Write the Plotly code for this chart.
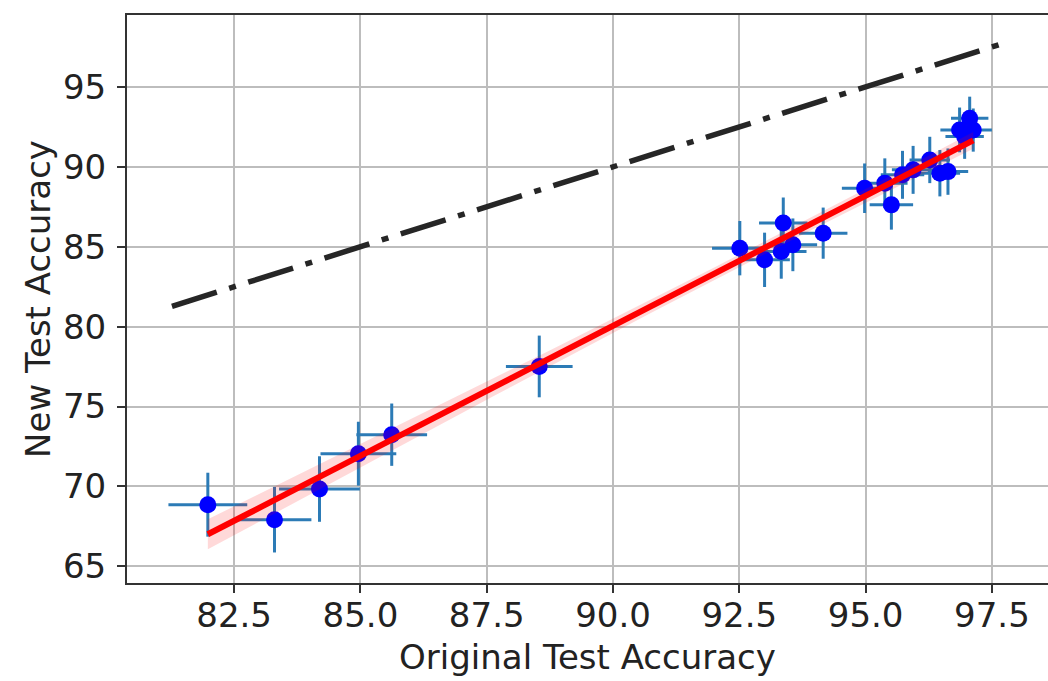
import numpy as np
import plotly.graph_objects as go

# ---- data ----
orig_acc = [81.98, 83.30, 84.19, 84.96, 85.62, 88.54, 92.51, 93.00, 93.33, 93.37,
            93.56, 94.16, 94.98, 95.38, 95.51, 95.73, 95.94, 96.27, 96.47, 96.63,
            96.86, 96.96, 97.06, 97.13]
new_acc = [68.86, 67.92, 69.84, 72.05, 73.24, 77.51, 84.91, 84.18, 84.70, 86.48,
           85.12, 85.85, 88.66, 88.98, 87.62, 89.50, 89.81, 90.43, 89.60, 89.70,
           92.31, 91.90, 93.04, 92.30]
orig_err = [0.78, 0.73, 0.80, 0.75, 0.70, 0.66, 0.55, 0.50, 0.50, 0.48,
            0.48, 0.48, 0.45, 0.45, 0.43, 0.43, 0.42, 0.40, 0.40, 0.40,
            0.38, 0.38, 0.37, 0.37]
new_err = [2.00, 2.05, 2.05, 2.00, 1.95, 1.93, 1.70, 1.70, 1.70, 1.60,
           1.65, 1.60, 1.55, 1.55, 1.55, 1.50, 1.50, 1.45, 1.45, 1.45,
           1.40, 1.40, 1.35, 1.35]
identity_x = [81.27, 97.69]
x_ticks = [82.5, 85.0, 87.5, 90.0, 92.5, 95.0, 97.5]
y_ticks = [65, 70, 75, 80, 85, 90, 95]
x_range = [80.38, 98.61]
y_range = [63.96, 99.50]

# ---- linear fit with 95% confidence band ----
xa = np.array(orig_acc)
ya = np.array(new_acc)
slope, intercept = np.polyfit(xa, ya, 1)
xs = np.linspace(xa.min(), xa.max(), 60)
yhat = intercept + slope * xs
n = len(xa)
resid = ya - (intercept + slope * xa)
s = np.sqrt(np.sum(resid ** 2) / (n - 2))
sxx = np.sum((xa - xa.mean()) ** 2)
half = 2.07 * s * np.sqrt(1.0 / n + (xs - xa.mean()) ** 2 / sxx)

fig = go.Figure()

fig.add_trace(go.Scatter(
    x=identity_x, y=identity_x, mode="lines",
    line=dict(color="#262626", width=5.5, dash="47px,13px,7px,13px"),
    hoverinfo="skip"))

fig.add_trace(go.Scatter(
    x=orig_acc, y=new_acc, mode="markers",
    marker=dict(color="#0000ff", size=17),
    error_x=dict(type="data", array=orig_err, color="#2c7bb6", thickness=3, width=0),
    error_y=dict(type="data", array=new_err, color="#2c7bb6", thickness=3, width=0)))

fig.add_trace(go.Scatter(
    x=np.concatenate([xs, xs[::-1]]),
    y=np.concatenate([yhat + half, (yhat - half)[::-1]]),
    fill="toself", fillcolor="rgba(255,0,0,0.15)", mode="lines",
    line=dict(width=0), hoverinfo="skip"))

fig.add_trace(go.Scatter(
    x=xs, y=yhat, mode="lines",
    line=dict(color="#ff0000", width=6), hoverinfo="skip"))

axis_common = dict(
    showline=True, linecolor="#333333", linewidth=2,
    ticks="outside", ticklen=8, tickwidth=2, tickcolor="#333333",
    showgrid=True, gridcolor="#bdbdbd", gridwidth=2, zeroline=False,
    tickfont=dict(family="DejaVu Sans", size=34, color="#222222"),
)

fig.update_layout(
    width=1048, height=681,
    margin=dict(l=127, r=0, t=15, b=98),
    paper_bgcolor="white", plot_bgcolor="white",
    showlegend=False,
    font=dict(family="DejaVu Sans", color="#222222"),
    xaxis=dict(range=x_range, tickvals=x_ticks, ticktext=[f"{v:.1f}" for v in x_ticks],
               mirror=True, ticklabelstandoff=-7,
               title=dict(text="Original Test Accuracy", font=dict(size=34), standoff=11),
               **axis_common),
    yaxis=dict(range=y_range, tickvals=y_ticks, mirror=False, ticklabelstandoff=4,
               title=dict(text="New Test Accuracy", font=dict(size=34), standoff=2),
               **axis_common),
)

fig.write_html("out.html")
